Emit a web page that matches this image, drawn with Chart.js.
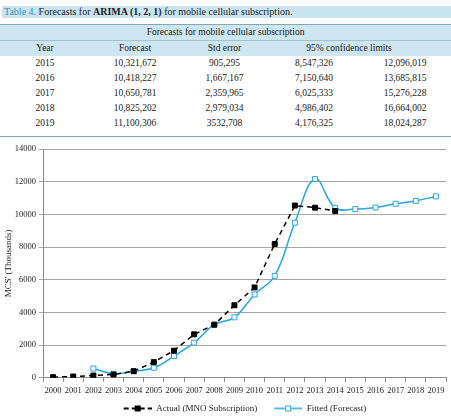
<!DOCTYPE html>
<html>
<head>
<meta charset="utf-8">
<script src="https://cdn.jsdelivr.net/npm/chart.js@4"></script>
<style>
body{margin:0;width:451px;height:416px;background:#fff;font-family:"Liberation Serif",serif;color:#222;position:relative;overflow:hidden}
.cap{position:absolute;left:2px;top:6px;width:449px;height:12px;background:#c9e4ef;font-size:10px;line-height:12px;padding-left:2px;box-sizing:border-box;white-space:nowrap}
.cap .n{color:#3a8fb7}
table{position:absolute;left:0;top:24px;width:451px;border-collapse:collapse;font-size:9.5px;table-layout:fixed;border-top:1.5px solid #7fa9b8;border-bottom:1.5px solid #7fa9b8}
td,th{font-weight:normal;text-align:center;padding:0;height:15px;line-height:15px;white-space:nowrap}
thead tr{background:#cde6ef}
thead tr.t1 th{border-bottom:1px solid #9fc3cf}
tbody tr:last-child td{padding-bottom:5px}
#wrap{position:absolute;left:0;top:138px;width:451px;height:278px}
</style>
</head>
<body>
<div class="cap"><span class="n">Table 4.</span> Forecasts for <b>ARIMA (1, 2, 1)</b> for mobile cellular subscription.</div>
<table>
<colgroup><col style="width:90px"><col style="width:90px"><col style="width:89px"><col style="width:90px"><col style="width:92px"></colgroup>
<thead>
<tr class="t1"><th colspan="5">Forecasts for mobile cellular subscription</th></tr>
<tr><th>Year</th><th>Forecast</th><th>Std error</th><th colspan="2" style="padding-right:22px">95% confidence limits</th></tr>
</thead>
<tbody>
<tr><td>2015</td><td>10,321,672</td><td>905,295</td><td>8,547,326</td><td>12,096,019</td></tr>
<tr><td>2016</td><td>10,418,227</td><td>1,667,167</td><td>7,150,640</td><td>13,685,815</td></tr>
<tr><td>2017</td><td>10,650,781</td><td>2,359,965</td><td>6,025,333</td><td>15,276,228</td></tr>
<tr><td>2018</td><td>10,825,202</td><td>2,979,034</td><td>4,986,402</td><td>16,664,002</td></tr>
<tr><td>2019</td><td>11,100,306</td><td>3532,708</td><td>4,176,325</td><td>18,024,287</td></tr>
</tbody>
</table>
<div id="wrap"><canvas id="myChart"></canvas></div>
<script>
const years = ['2000', '2001', '2002', '2003', '2004', '2005', '2006', '2007', '2008', '2009',
  '2010', '2011', '2012', '2013', '2014', '2015', '2016', '2017', '2018', '2019'];
const actual = [40, 80, 140, 200, 405, 960, 1660, 2660, 3250, 4440,
  5530, 8190, 10540, 10410, 10210, null, null, null, null, null];
const fitted = [null, null, 570, 245, 405, 615, 1330, 2150, 3250, 3700,
  5100, 6240, 9490, 12160, 10400, 10322, 10418, 10651, 10825, 11100];
const yTicks = [0, 2000, 4000, 6000, 8000, 10000, 12000, 14000];
const seriesNames = ['Actual (MNO Subscription)', 'Fitted (Forecast)'];

const blue = '#27a6df';
const tickFont = {family: 'Liberation Serif', size: 8.5};

// legend icons: blank 13px on the left, then line + square marker
const makeIcon = (dashed) => {
  const c = document.createElement('canvas');
  c.width = 41; c.height = 10;
  const g = c.getContext('2d');
  g.lineWidth = dashed ? 2 : 1.5;
  g.strokeStyle = dashed ? '#000' : blue;
  if (dashed) g.setLineDash([5, 3]);
  g.beginPath(); g.moveTo(13, 5); g.lineTo(41, 5); g.stroke();
  g.setLineDash([]);
  if (dashed) {
    g.fillStyle = '#000'; g.fillRect(24, 2, 6, 6);
  } else {
    g.fillStyle = '#fff'; g.fillRect(24, 2, 6, 6);
    g.lineWidth = 1; g.strokeRect(24.5, 2.5, 5, 5);
  }
  return c;
};
const icons = [makeIcon(true), makeIcon(false)];

const shiftLegend = {
  id: 'shiftLegend',
  afterLayout: (chart) => { chart.legend.left += 15; chart.legend.right += 15; }
};

const data = {
  labels: years,
  datasets: [{
    label: seriesNames[0],
    data: actual,
    borderColor: '#000',
    backgroundColor: '#000',
    borderWidth: 1.5,
    borderDash: [5, 4],
    pointStyle: 'rect',
    pointRadius: 3.5,
    pointBorderWidth: 1,
    tension: 0
  },
  {
    label: seriesNames[1],
    data: fitted,
    borderColor: blue,
    backgroundColor: '#fff',
    borderWidth: 1.5,
    pointStyle: 'rect',
    pointRadius: 3.5,
    pointBorderWidth: 1,
    tension: 0.4
  }]
};

const config = {
  type: 'line',
  data: data,
  plugins: [shiftLegend],
  options: {
    responsive: true,
    maintainAspectRatio: false,
    animation: false,
    layout: {padding: {top: 11, right: 4, left: 0, bottom: -7}},
    plugins: {
      tooltip: {enabled: false},
      legend: {
        position: 'bottom',
        labels: {
          usePointStyle: true,
          pointStyleWidth: 41,
          boxHeight: 10,
          padding: 4,
          color: '#222',
          font: {family: 'Liberation Serif', size: 9},
          generateLabels: (chart) => Chart.defaults.plugins.legend.labels.generateLabels(chart)
            .map((l, i) => Object.assign(l, {pointStyle: icons[i]}))
        }
      }
    },
    scales: {
      x: {
        offset: true,
        grid: {drawOnChartArea: false, offset: true, tickLength: 4, color: '#8c8c8c'},
        border: {color: '#8c8c8c'},
        ticks: {color: '#222', font: tickFont, maxRotation: 0, autoSkip: false, padding: 4}
      },
      y: {
        min: yTicks[0],
        max: yTicks[yTicks.length - 1],
        afterBuildTicks: (s) => { s.ticks = yTicks.map(v => ({value: v})); },
        afterFit: (s) => { s.width = 43; },
        grid: {color: '#a6a6a6', tickLength: 4},
        border: {color: '#8c8c8c'},
        ticks: {color: '#222', font: tickFont, padding: 3, callback: (v) => String(v)},
        title: {display: true, text: "MCS' (Thousands)", color: '#222',
          font: {family: 'Liberation Serif', size: 9}, padding: {top: 3, bottom: 0}}
      }
    }
  }
};

var thisChart = new Chart(document.getElementById('myChart'), config);
</script>
</body>
</html>
